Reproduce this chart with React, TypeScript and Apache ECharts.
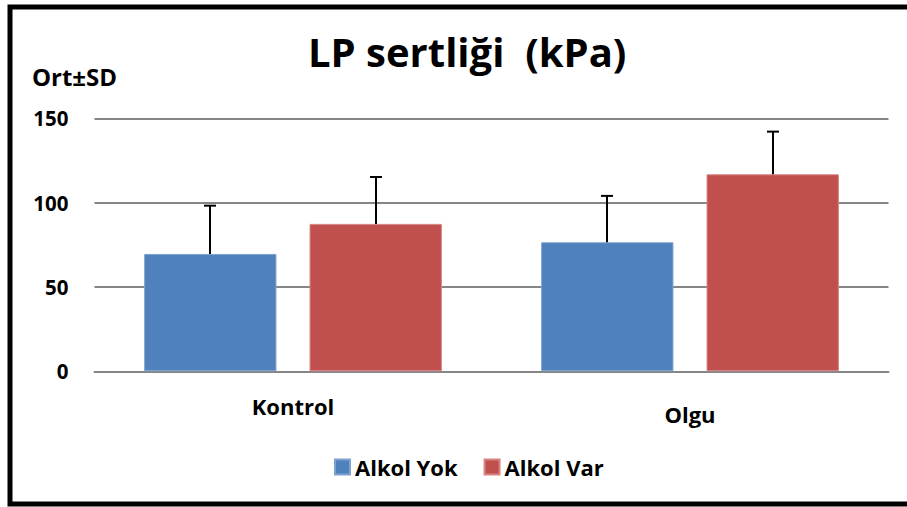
import React, { useEffect, useRef } from "react";
import * as echarts from "echarts";

const categories = ["Kontrol", "Olgu"];
const seriesNames = ["Alkol Yok", "Alkol Var"];
const alkolYok = [69.6, 76.5];
const alkolVar = [87.4, 116.8];
const sdYok = [28.6, 27.5];
const sdVar = [27.8, 25.3];
const yTicks = { min: 0, max: 150, interval: 50 };

const FONT = "Open Sans";
const CAT_GAP = 0.25;
const BAR_GAP = 0.25;

export default function App() {
  const ref = useRef<HTMLDivElement>(null);
  useEffect(() => {
    if (!ref.current) return;
    const chart = echarts.init(ref.current, undefined, { renderer: "svg" });
    const errData: number[][] = [];
    categories.forEach((_, i) => {
      errData.push([i, alkolYok[i], sdYok[i], 0]);
    });
    categories.forEach((_, i) => {
      errData.push([i, alkolVar[i], sdVar[i], 1]);
    });
    const option: any = {
      animation: false,
      backgroundColor: "#ffffff",
      title: {
        text: "LP sertliği  (kPa)",
        left: 308,
        top: 31,
        padding: 0,
        textStyle: { fontFamily: FONT, fontWeight: "bold", fontSize: 40, color: "#000" },
      },
      graphic: [
        {
          type: "rect",
          shape: { x: 10, y: 7, width: 1000, height: 497 },
          style: { fill: "none", stroke: "#000", lineWidth: 5 },
          silent: true,
        },
      ],
      legend: {
        data: seriesNames,
        left: 329,
        top: 451,
        itemWidth: 15,
        itemHeight: 15,
        itemGap: 26,
        icon: "rect",
        textStyle: { fontFamily: FONT, fontWeight: "bold", fontSize: 22, color: "#000" },
      },
      grid: { left: 94.5, right: 18.5, top: 118.3, bottom: 135.7, containLabel: false },
      xAxis: {
        type: "category",
        data: [
          { value: categories[0] },
          { value: categories[1], textStyle: { padding: [8, 0, 0, 0] } },
        ],
        axisLine: { show: true, lineStyle: { color: "#868686", width: 2 } },
        axisTick: { show: false },
        axisLabel: {
          margin: 24,
          fontFamily: FONT,
          fontWeight: "bold",
          fontSize: 22,
          color: "#000",
        },
      },
      yAxis: {
        type: "value",
        min: yTicks.min,
        max: yTicks.max,
        interval: yTicks.interval,
        name: "Ort±SD",
        nameLocation: "end",
        nameGap: 30,
        nameTextStyle: {
          fontFamily: FONT,
          fontWeight: "bold",
          fontSize: 24,
          color: "#000",
          align: "center",
          padding: [0, 40, 0, 0],
        },
        axisLine: { show: false },
        axisTick: { show: false },
        splitLine: { lineStyle: { color: "#868686", width: 2 } },
        axisLabel: {
          margin: 26,
          fontFamily: FONT,
          fontWeight: "bold",
          fontSize: 20.5,
          color: "#000",
        },
      },
      series: [
        {
          name: seriesNames[0],
          type: "bar",
          data: alkolYok,
          barGap: `${BAR_GAP * 100}%`,
          barCategoryGap: `${CAT_GAP * 100}%`,
          itemStyle: { color: "#4F81BD", borderColor: "#7FA3D0", borderWidth: 1 },
        },
        {
          name: seriesNames[1],
          type: "bar",
          data: alkolVar,
          barGap: `${BAR_GAP * 100}%`,
          barCategoryGap: `${CAT_GAP * 100}%`,
          itemStyle: { color: "#C0504D", borderColor: "#D88482", borderWidth: 1 },
        },
        {
          type: "custom",
          z: 10,
          data: errData,
          encode: { x: 0, y: 1 },
          renderItem: (params: any, api: any) => {
            const cat = api.value(0);
            const mean = api.value(1);
            const sd = api.value(2);
            const s = api.value(3);
            const top = api.coord([cat, mean + sd]);
            const bot = api.coord([cat, mean]);
            const band = api.size([1, 0])[0];
            const bw = (band * (1 - CAT_GAP)) / (2 + BAR_GAP);
            const off = ((s === 0 ? -1 : 1) * bw * (1 + BAR_GAP)) / 2;
            const x = Math.round(top[0] + off);
            const style = { stroke: "#000", lineWidth: 2 };
            return {
              type: "group",
              children: [
                { type: "line", shape: { x1: x, y1: bot[1], x2: x, y2: top[1] }, style },
                { type: "line", shape: { x1: x - 6, y1: top[1], x2: x + 6, y2: top[1] }, style },
              ],
            };
          },
        },
      ],
    };
    chart.setOption(option);
    return () => chart.dispose();
  }, []);
  return (
    <div
      ref={ref}
      style={{ position: "absolute", left: 0, top: 0, width: 907, height: 507 }}
    />
  );
}
